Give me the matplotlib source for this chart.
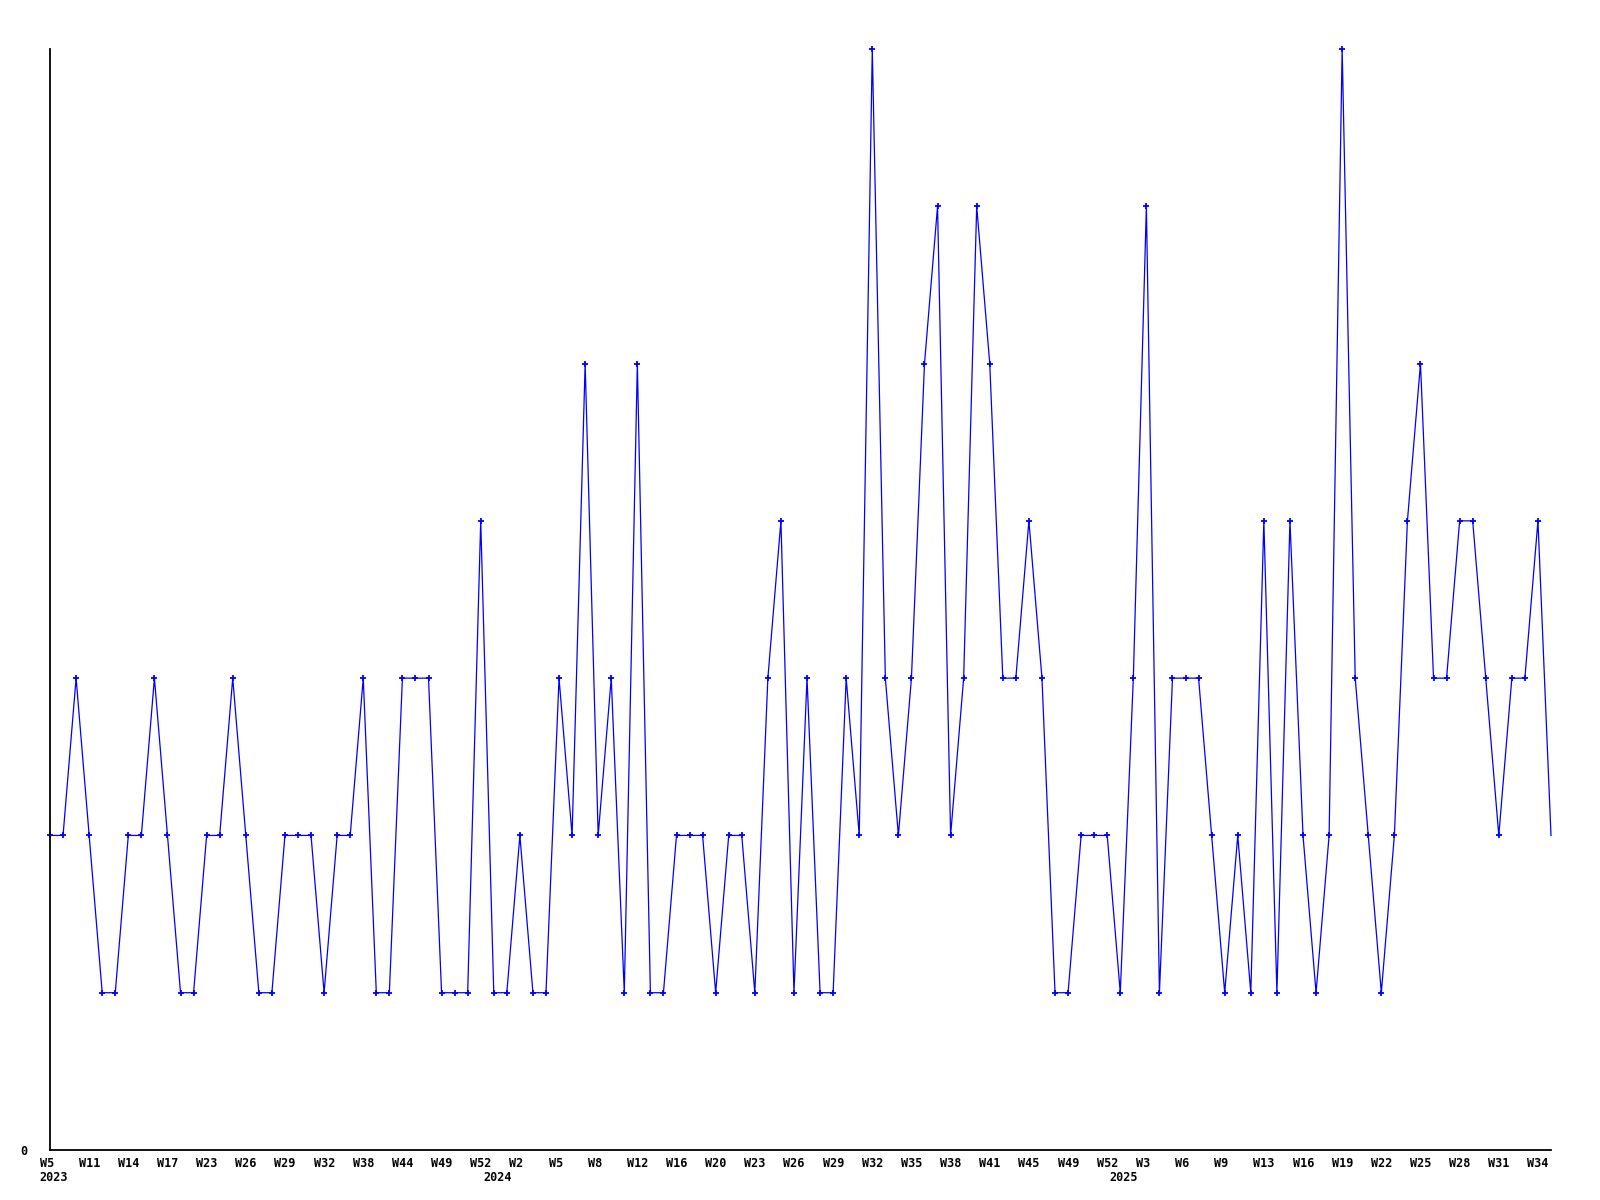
import matplotlib
matplotlib.use("Agg")
import matplotlib.pyplot as plt
import matplotlib.transforms as mtransforms
import numpy as np

# ---- data -------------------------------------------------------------
values = [2, 2, 3, 2, 1, 1, 2, 2, 3, 2,
          1, 1, 2, 2, 3, 2, 1, 1, 2, 2,
          2, 1, 2, 2, 3, 1, 1, 3, 3, 3,
          1, 1, 1, 4, 1, 1, 2, 1, 1, 3,
          2, 5, 2, 3, 1, 5, 1, 1, 2, 2,
          2, 1, 2, 2, 1, 3, 4, 1, 3, 1,
          1, 3, 2, 7, 3, 2, 3, 5, 6, 2,
          3, 6, 5, 3, 3, 4, 3, 1, 1, 2,
          2, 2, 1, 3, 6, 1, 3, 3, 3, 2,
          1, 2, 1, 4, 1, 4, 2, 1, 2, 7,
          3, 2, 1, 2, 4, 5, 3, 3, 4, 4,
          3, 2, 3, 3, 4, 2]

week_labels = ["W5", "W11", "W14", "W17", "W23", "W26", "W29", "W32", "W38",
               "W44", "W49", "W52", "W2", "W5", "W8", "W12", "W16", "W20",
               "W23", "W26", "W29", "W32", "W35", "W38", "W41", "W45", "W49",
               "W52", "W3", "W6", "W9", "W13", "W16", "W19", "W22", "W25",
               "W28", "W31", "W34"]
tick_step = 3

year_labels = ["2023", "2024", "2025"]
year_index = [0, 34, 82]

# ---- figure -----------------------------------------------------------
W, H, DPI = 1600, 1200, 100
fig = plt.figure(figsize=(W / DPI, H / DPI), dpi=DPI, facecolor="white")
ax = fig.add_axes([50 / W, 1 - 1150 / H, (1551 - 50) / W, (1150 - 49) / H])

x = np.arange(len(values))
ax.plot(x, values, color="#0000ff", lw=0.9, marker="+", markersize=4,
        mew=1.3, markevery=list(range(len(values) - 1)), clip_on=False)

ax.set_xlim(0, len(values) - 1)
ax.set_ylim(0, 7)

for s in ("top", "right"):
    ax.spines[s].set_visible(False)
for s in ("left", "bottom"):
    ax.spines[s].set_linewidth(1.3)
    ax.spines[s].set_color("black")

font = dict(family="DejaVu Sans Mono", weight="bold", size=8.5)

ax.set_yticks([0])
ax.set_yticklabels(["0"], **font)
ax.tick_params(axis="y", length=0, pad=16)

ticks = x[::tick_step][:len(week_labels)]
ax.set_xticks(ticks)
ax.set_xticklabels(week_labels, ha="left", **font)
ax.tick_params(axis="x", length=0, pad=5)
shift = mtransforms.ScaledTranslation(-10.5 / DPI, 0, fig.dpi_scale_trans)
for lab in ax.get_xticklabels():
    lab.set_transform(lab.get_transform() + shift)

trans = mtransforms.blended_transform_factory(ax.transData, ax.transAxes)
for yl, yi in zip(year_labels, year_index):
    ax.text(yi, 0, yl, transform=trans + mtransforms.ScaledTranslation(
        -10.5 / DPI, -21 / DPI, fig.dpi_scale_trans),
        ha="left", va="top", **font)

fig.savefig("out.png", dpi=DPI, facecolor="white")
